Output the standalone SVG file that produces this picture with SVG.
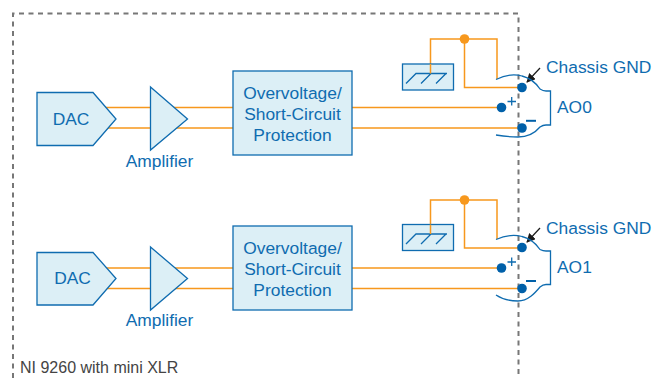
<svg xmlns="http://www.w3.org/2000/svg" width="652" height="378" viewBox="0 0 652 378">
<defs>
<marker id="ah" viewBox="0 0 10 10" refX="9" refY="5" markerWidth="9" markerHeight="9" markerUnits="userSpaceOnUse" orient="auto"><path d="M0 0L10 5L0 10Z" fill="#1a1a1a"/></marker>
</defs>
<style>
.w{fill:none;stroke:#f7981d;stroke-width:1.500}
.s{fill:#dceff6;stroke:#0f6cb0;stroke-width:1.300}
.c{fill:none;stroke:#0f6cb0;stroke-width:1.300}
.d{fill:#0060a9}
.o{fill:#f7981d}
.t{font-family:"Liberation Sans",Arial,sans-serif;font-size:17.400px;fill:#0f6cb0}
.m{text-anchor:middle}
</style>
<rect width="652" height="378" fill="#fff"/>
<path d="M13 378V13.500H518.500V378" fill="none" stroke="#777" stroke-width="2" stroke-dasharray="5 4.500"/>
<g id="connectors">
<path class="w" d="M105 107.500H233M105 128H233M352 107.500H501M352 128H522"/>
<path class="w" d="M430.500 64V39H497V79M464.500 39V87.500H522"/>
<path class="w" d="M105 268H233M105 288.500H233M352 268H501M352 288.500H522"/>
<path class="w" d="M430.500 224V200H497V239M464.500 200V248H522"/>
<path d="M540 68L527 82" fill="none" stroke="#1a1a1a" stroke-width="1.200" marker-end="url(#ah)"/>
<path d="M540 228L527 242" fill="none" stroke="#1a1a1a" stroke-width="1.200" marker-end="url(#ah)"/>
</g>
<g id="dac0"><path class="s" d="M37 92.500H93L116 119L93 145.500H37Z"/><text class="t m" x="71" y="125">DAC</text></g>
<g id="amp0"><path class="s" d="M150.500 87L187.500 119L150.500 150Z"/><text class="t m" x="159.500" y="167">Amplifier</text></g>
<g id="prot0"><rect class="s" x="233" y="71" width="119" height="84"/><text class="t m" x="292.500" y="99">Overvoltage/</text><text class="t m" x="292.500" y="120">Short-Circuit</text><text class="t m" x="292.500" y="141">Protection</text></g>
<g id="gnd0"><rect class="s" x="402.500" y="64" width="51" height="26"/><path class="c" d="M406 83.500L416 73.500H447M421 83.500L431 73.500M436 83.500L446 73.500"/><path class="w" d="M430.500 64V73.500"/></g>
<g id="conn0"><path class="c" d="M496 79.500C505 75 515 74 522 76C530 78 536 83 540 89Q543 91 546 91H550.500V125H546Q543 125 540 127C535 133 528 137 518 137C510 137 502 136 496 135"/><circle class="d" cx="522" cy="87.500" r="4.800"/><circle class="d" cx="501.500" cy="107.500" r="4.800"/><circle class="d" cx="522" cy="128" r="4.800"/><path class="c" d="M507.500 101.500H516M511.700 97V105.500"/><path d="M526 120.800H536" stroke="#0060a9" stroke-width="2" fill="none"/><text class="t" x="546" y="73">Chassis GND</text><text class="t" x="557" y="113">AO0</text></g>
<g id="dac1"><path class="s" d="M37 252.500H93L116 278.500L93 305H37Z"/><text class="t m" x="72.500" y="284">DAC</text></g>
<g id="amp1"><path class="s" d="M150.500 247L187.500 278.500L150.500 310Z"/><text class="t m" x="159.500" y="326">Amplifier</text></g>
<g id="prot1"><rect class="s" x="233" y="226" width="119" height="84"/><text class="t m" x="292.500" y="254">Overvoltage/</text><text class="t m" x="292.500" y="275">Short-Circuit</text><text class="t m" x="292.500" y="296">Protection</text></g>
<g id="gnd1"><rect class="s" x="402.500" y="224.500" width="51" height="26"/><path class="c" d="M406 244L416 234H447M421 244L431 234M436 244L446 234"/><path class="w" d="M430.500 224.500V234"/></g>
<g id="conn1"><path class="c" d="M496 239.500C505 235.500 515 234.500 522 236.500C530 238.500 536 243.500 540 249.500Q543 251 546 251H550.500V284.500H546Q543 284.500 540 287C535 293 528 301 518 301C510 301 502 299 496 295"/><circle class="d" cx="522" cy="247.500" r="4.800"/><circle class="d" cx="501.500" cy="268" r="4.800"/><circle class="d" cx="522" cy="288.500" r="4.800"/><path class="c" d="M507.500 262H516M511.700 257.500V266"/><path d="M526 281H536" stroke="#0060a9" stroke-width="2" fill="none"/><text class="t" x="546" y="234">Chassis GND</text><text class="t" x="557" y="273">AO1</text></g>
<circle class="o" cx="464.500" cy="39" r="4.800"/>
<circle class="o" cx="464.500" cy="200" r="4.800"/>
<text x="20" y="373" font-family="'Liberation Sans',Arial,sans-serif" font-size="16" fill="#444">NI 9260 with mini XLR</text>
</svg>
